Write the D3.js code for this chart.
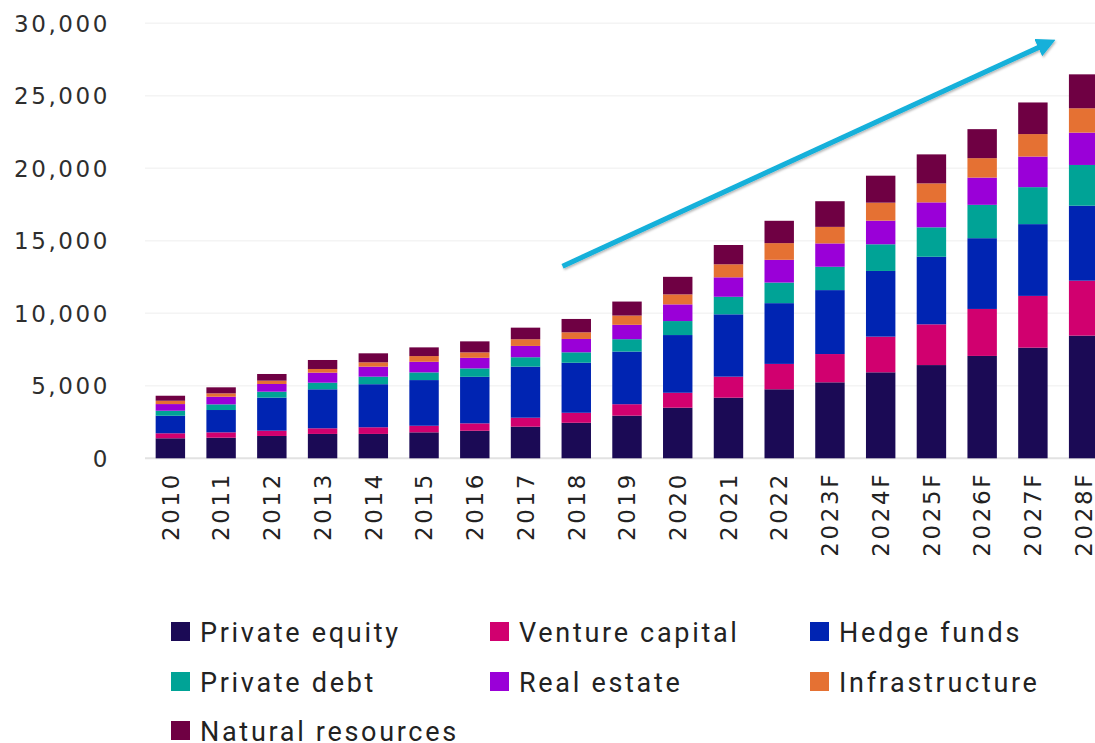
<!DOCTYPE html>
<html>
<head>
<meta charset="utf-8">
<script src="https://cdn.jsdelivr.net/npm/d3@7"></script>
<style>
  body { margin: 0; background: #fff; }
  svg { display: block; }
</style>
</head>
<body>
<div id="chart"></div>
<script>
// categories and series
let years = ["2010","2011","2012","2013","2014","2015","2016","2017","2018","2019","2020","2021","2022","2023F","2024F","2025F","2026F","2027F","2028F"];
let seriesNames = ["Private equity","Venture capital","Hedge funds","Private debt","Real estate","Infrastructure","Natural resources"];
let privateEquity   = [1380,1420,1540,1680,1680,1790,1900,2180,2450,2940,3490,4180,4760,5240,5930,6430,7060,7630,8460];
let ventureCapital  = [345,370,365,390,460,455,510,620,690,790,1030,1450,1750,1950,2460,2810,3240,3570,3790];
let hedgeFunds      = [1210,1540,2280,2690,2970,3150,3210,3520,3450,3630,3980,4300,4190,4410,4530,4660,4880,4950,5170];
let privateDebt     = [345,390,410,455,520,530,580,650,720,855,965,1210,1420,1610,1840,2030,2300,2550,2810];
let realEstate      = [460,525,530,690,690,730,730,780,920,990,1150,1340,1570,1610,1630,1720,1880,2110,2230];
let infrastructure  = [230,235,230,255,300,395,375,460,460,640,690,900,1150,1140,1240,1310,1340,1550,1680];
let naturalRes      = [345,415,460,620,620,600,760,800,920,965,1210,1330,1540,1770,1860,2000,2000,2180,2340];
let colors = ["#1b0a55","#d1006f","#0024b2","#00a396","#9a00d8","#e57133","#6f0043"];
let yTicks = [0,5000,10000,15000,20000,25000,30000];

let allSeries = [privateEquity,ventureCapital,hedgeFunds,privateDebt,realEstate,infrastructure,naturalRes];
let table = years.map(function (yr, i) {
    let row = {year: yr};
    seriesNames.forEach(function (n, k) { row[n] = allSeries[k][i]; });
    return row;
});

var width = 1095, height = 743;
let svg = d3.select("#chart").append("svg")
    .attr("width", width)
    .attr("height", height);

let x = d3.scaleBand()
    .domain(years)
    .range([145, 1109])
    .paddingInner(0.42)
    .paddingOuter(0.21);

let y = d3.scaleLinear()
    .domain([0, 30000])
    .range([458.3, 23.3]);

let fontMain = "'DejaVu Sans', sans-serif";

// gridlines
svg.append("g")
    .selectAll("line")
    .data(yTicks)
    .enter()
    .append("line")
    .attr("x1", 145)
    .attr("x2", width)
    .attr("y1", d => y(d))
    .attr("y2", d => y(d))
    .attr("stroke", d => d === 0 ? "#e2e2e2" : "#f4f4f4")
    .attr("stroke-width", d => d === 0 ? 2 : 1.5);

// y axis labels
svg.append("g")
    .selectAll("text")
    .data(yTicks)
    .enter()
    .append("text")
    .attr("x", 110)
    .attr("y", d => y(d))
    .attr("dy", "0.36em")
    .attr("text-anchor", "end")
    .style("font-family", fontMain)
    .style("font-size", "23px")
    .style("letter-spacing", "2.6px")
    .style("fill", "#2e2e2e")
    .text(d => d3.format(",")(d));

// stacked bars
let stack = d3.stack().keys(seriesNames)(table);
svg.append("g")
    .selectAll("g")
    .data(stack)
    .enter()
    .append("g")
    .attr("fill", (d, i) => colors[i])
    .selectAll("rect")
    .data(d => d)
    .enter()
    .append("rect")
    .attr("x", d => x(d.data.year))
    .attr("width", x.bandwidth())
    .attr("y", d => y(d[1]))
    .attr("height", d => y(d[0]) - y(d[1]));

// x labels, rotated
svg.append("g")
    .selectAll("text")
    .data(years)
    .enter()
    .append("text")
    .attr("transform", d => "translate(" + (x(d) + x.bandwidth() / 2) + ",472) rotate(-90)")
    .attr("dy", "0.36em")
    .attr("text-anchor", "end")
    .style("font-family", fontMain)
    .style("font-size", "23px")
    .style("letter-spacing", "2.6px")
    .style("fill", "#222")
    .text(d => d);

// trend arrow
let defs = svg.append("defs");
defs.append("marker")
    .attr("id", "head")
    .attr("viewBox", "0 0 10 10")
    .attr("refX", 6)
    .attr("refY", 5)
    .attr("markerWidth", 3.8)
    .attr("markerHeight", 3.8)
    .attr("orient", "auto")
    .append("path")
    .attr("d", "M0,0 L10,5 L0,10 z")
    .attr("fill", "#12b0da");
let shadow = defs.append("filter").attr("id", "shadow");
shadow.append("feDropShadow")
    .attr("dx", 1).attr("dy", 1.5)
    .attr("stdDeviation", 1.2)
    .attr("flood-color", "#000")
    .attr("flood-opacity", 0.3);

svg.append("line")
    .attr("x1", x("2018") + 1)
    .attr("y1", y(13250))
    .attr("x2", x("2027F") + x.bandwidth() + 1)
    .attr("y2", y(28650))
    .attr("stroke", "#12b0da")
    .attr("stroke-width", 5)
    .attr("marker-end", "url(#head)")
    .attr("filter", "url(#shadow)");

// legend
let legendFont = "Roboto, sans-serif";
let legCols = [171, 490, 810];
let legRows = [632, 682, 731];
let leg = svg.append("g")
    .selectAll("g")
    .data(seriesNames)
    .enter()
    .append("g")
    .attr("transform", (d, i) => "translate(" + legCols[i % 3] + "," + legRows[Math.floor(i / 3)] + ")");
leg.append("rect")
    .attr("x", 0)
    .attr("y", -10)
    .attr("width", 19)
    .attr("height", 19)
    .attr("fill", (d, i) => colors[i]);
leg.append("text")
    .attr("x", 29)
    .attr("y", 0)
    .attr("dy", "0.36em")
    .style("font-family", legendFont)
    .style("font-size", "27px")
    .style("letter-spacing", "2.7px")
    .style("fill", "#222")
    .text(d => d);
</script>
</body>
</html>
